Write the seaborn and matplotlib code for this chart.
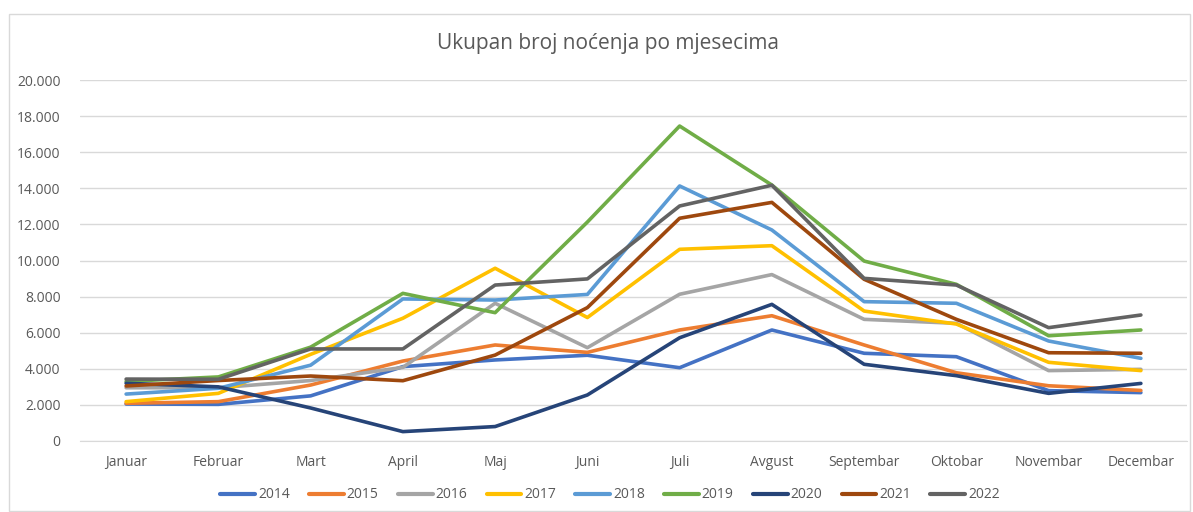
import pandas as pd
import seaborn as sns
import matplotlib.pyplot as plt
from matplotlib.ticker import FuncFormatter
from matplotlib.patches import Rectangle

months = ['Januar', 'Februar', 'Mart', 'April', 'Maj', 'Juni', 'Juli',
          'Avgust', 'Septembar', 'Oktobar', 'Novembar', 'Decembar']
years = ['2014', '2015', '2016', '2017', '2018', '2019', '2020', '2021', '2022']

y2014 = [2050, 2030, 2500, 4120, 4490, 4750, 4060, 6150, 4860, 4670, 2790, 2680]
y2015 = [2090, 2180, 3100, 4430, 5320, 4910, 6150, 6940, 5320, 3780, 3060, 2800]
y2016 = [2950, 2950, 3350, 4080, 7630, 5170, 8130, 9220, 6740, 6520, 3900, 3970]
y2017 = [2180, 2640, 4800, 6800, 9570, 6840, 10620, 10820, 7200, 6480, 4360, 3900]
y2018 = [2600, 2920, 4200, 7870, 7810, 8120, 14130, 11690, 7720, 7630, 5540, 4580]
y2019 = [3300, 3550, 5200, 8180, 7110, 12130, 17450, 14180, 9970, 8680, 5830, 6150]
y2020 = [3200, 3000, 1830, 520, 800, 2550, 5720, 7570, 4250, 3620, 2640, 3190]
y2021 = [3050, 3350, 3600, 3340, 4760, 7390, 12340, 13220, 8960, 6740, 4890, 4860]
y2022 = [3430, 3420, 5100, 5100, 8640, 8980, 13020, 14170, 9010, 8640, 6280, 6980]

colors = ['#4472C4', '#ED7D31', '#A5A5A5', '#FFC000', '#5B9BD5',
          '#70AD47', '#264478', '#9E480E', '#636363']

series = [y2014, y2015, y2016, y2017, y2018, y2019, y2020, y2021, y2022]
rows = []
for year, vals in zip(years, series):
    for i, v in enumerate(vals):
        rows.append({'mjesec': i, 'godina': year, 'nocenja': v})
df = pd.DataFrame(rows)

sns.set_style('white')
plt.rcParams['font.family'] = ['Open Sans', 'DejaVu Sans']

fig = plt.figure(figsize=(11.93, 5.12), dpi=100)
ax = fig.add_axes([80 / 1193, 1 - 441 / 512, 1107 / 1193, 361 / 512])

sns.lineplot(data=df, x='mjesec', y='nocenja', hue='godina',
             palette=colors, linewidth=2.6, ax=ax, legend=True)

ax.set_xlim(-0.5, 11.5)
ax.set_ylim(0, 20000)
ax.set_yticks(range(0, 20001, 2000))
ax.yaxis.set_major_formatter(
    FuncFormatter(lambda v, p: f'{int(v):,}'.replace(',', '.')))
ax.set_xticks(range(12))
ax.set_xticklabels(months)
ax.tick_params(axis='both', colors='#595959', labelsize=10, length=0)
ax.tick_params(axis='x', pad=10)
ax.tick_params(axis='y', pad=14)
ax.grid(axis='y', color='#D9D9D9', linewidth=1)
ax.set_axisbelow(True)
for s in ['top', 'right', 'left']:
    ax.spines[s].set_visible(False)
ax.spines['bottom'].set_color('#D9D9D9')
ax.set_xlabel('')
ax.set_ylabel('')

handles, labels = ax.get_legend_handles_labels()
ax.get_legend().remove()
leg = fig.legend(handles, labels, loc='center',
                 bbox_to_anchor=(610 / 1193, 1 - 495 / 512), ncol=9,
                 frameon=False, fontsize=10, handlelength=2.5,
                 handletextpad=0.2, columnspacing=1.4)
for t in leg.get_texts():
    t.set_color('#595959')
for line in leg.get_lines():
    line.set_linewidth(3)

fig.text(608 / 1193, 1 - 44 / 512, 'Ukupan broj noćenja po mjesecima',
         ha='center', va='center', fontsize=15, color='#595959')

fig.patches.append(Rectangle((9 / 1193, 0.002), 1181 / 1193, 1 - 14 / 512 - 0.002,
                             transform=fig.transFigure, fill=False,
                             edgecolor='#D9D9D9', linewidth=1))

fig.savefig('out.png', dpi=100)
